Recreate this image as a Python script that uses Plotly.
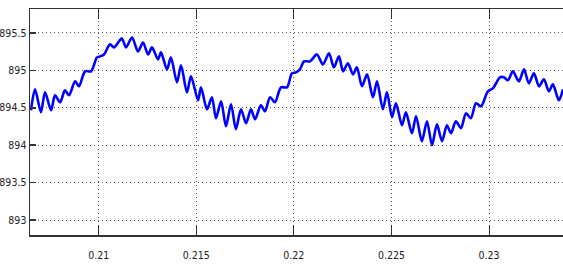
import plotly.graph_objects as go

# time (s) and voltage values
time_s = [
    0.20653, 0.20674, 0.20704, 0.20725, 0.20756, 0.20776, 0.20802, 0.20827, 0.20848, 0.20879,
    0.20899, 0.20930, 0.20961, 0.20991, 0.21007, 0.21027, 0.21058, 0.21078, 0.21104, 0.21119,
    0.21140, 0.21171, 0.21201, 0.21227, 0.21253, 0.21273, 0.21304, 0.21319, 0.21350, 0.21370,
    0.21401, 0.21422, 0.21452, 0.21473, 0.21509, 0.21524, 0.21555, 0.21580, 0.21601, 0.21627,
    0.21652, 0.21678, 0.21703, 0.21729, 0.21755, 0.21780, 0.21801, 0.21831, 0.21852, 0.21878,
    0.21903, 0.21934, 0.21965, 0.21990, 0.22011, 0.22031, 0.22052, 0.22083, 0.22118, 0.22149,
    0.22180, 0.22205, 0.22231, 0.22252, 0.22277, 0.22303, 0.22323, 0.22349, 0.22375, 0.22405,
    0.22426, 0.22456, 0.22477, 0.22503, 0.22523, 0.22554, 0.22574, 0.22605, 0.22626, 0.22656,
    0.22682, 0.22708, 0.22733, 0.22759, 0.22784, 0.22805, 0.22830, 0.22856, 0.22882, 0.22907,
    0.22933, 0.22959, 0.22994, 0.23020, 0.23056, 0.23076, 0.23097, 0.23122, 0.23153, 0.23179,
    0.23204, 0.23230, 0.23256, 0.23281, 0.23307, 0.23327, 0.23358, 0.23379,
]
voltage = [
    894.467, 894.747, 894.440, 894.707, 894.467, 894.667, 894.573, 894.733, 894.667, 894.853,
    894.787, 894.987, 894.987, 895.173, 895.187, 895.213, 895.347, 895.307, 895.387, 895.427,
    895.307, 895.440, 895.253, 895.373, 895.213, 895.307, 895.147, 895.240, 895.013, 895.173,
    894.840, 895.067, 894.707, 894.920, 894.600, 894.773, 894.480, 894.640, 894.360, 894.587,
    894.253, 894.547, 894.213, 894.480, 894.293, 894.480, 894.347, 894.533, 894.453, 894.640,
    894.573, 894.773, 894.773, 894.960, 894.973, 895.013, 895.120, 895.120, 895.213, 895.080,
    895.227, 895.040, 895.187, 894.987, 895.093, 894.947, 895.040, 894.787, 894.947, 894.640,
    894.853, 894.480, 894.707, 894.373, 894.560, 894.267, 894.440, 894.160, 894.387, 894.053,
    894.320, 894.000, 894.280, 894.053, 894.267, 894.160, 894.320, 894.227, 894.427, 894.360,
    894.560, 894.520, 894.720, 894.760, 894.907, 894.907, 894.867, 894.987, 894.853, 895.013,
    894.827, 894.960, 894.787, 894.880, 894.720, 894.813, 894.600, 894.747,
]

x_ticks = [0.21, 0.215, 0.22, 0.225, 0.23]
x_tick_labels = ["0.21", "0.215", "0.22", "0.225", "0.23"]
y_ticks = [893, 893.5, 894, 894.5, 895, 895.5]
y_tick_labels = ["893", "893.5", "894", "894.5", "895", "895.5"]

fig = go.Figure()
fig.add_trace(go.Scatter(
    x=time_s, y=voltage, mode="lines",
    line=dict(color="#0000ff", width=2.6, shape="spline", smoothing=0.8),
    showlegend=False, hoverinfo="skip",
))

axis_font = dict(family="DejaVu Sans Condensed, Liberation Sans Narrow, Liberation Sans, sans-serif",
                 size=10.5, color="#222222")

fig.update_layout(
    width=563, height=266,
    margin=dict(l=30, r=0, t=9, b=31, autoexpand=False),
    paper_bgcolor="white", plot_bgcolor="white",
    xaxis=dict(
        range=[0.20648, 0.23379], automargin=False,
        tickvals=x_ticks, ticktext=x_tick_labels,
        ticks="inside", ticklen=10, tickwidth=1, tickcolor="#333333",
        showline=True, linecolor="#333333", linewidth=1.5, mirror="ticks",
        showgrid=True, gridcolor="#555555", griddash="1px,3px", gridwidth=1,
        zeroline=False, tickfont=axis_font, ticklabelstandoff=10,
    ),
    yaxis=dict(
        range=[892.8, 895.82], automargin=False,
        tickvals=y_ticks, ticktext=y_tick_labels,
        ticks="inside", ticklen=6, tickwidth=1.5, tickcolor="#333333",
        showline=True, linecolor="#333333", linewidth=1.5, mirror=False,
        showgrid=True, gridcolor="#555555", griddash="1px,3px", gridwidth=1,
        zeroline=False, tickfont=axis_font, ticklabelstandoff=0,
    ),
)

fig.write_html(
    "out.html",
    config={"displayModeBar": False, "staticPlot": True},
    post_script="document.body.style.margin='0';document.body.style.overflow='hidden';",
)
